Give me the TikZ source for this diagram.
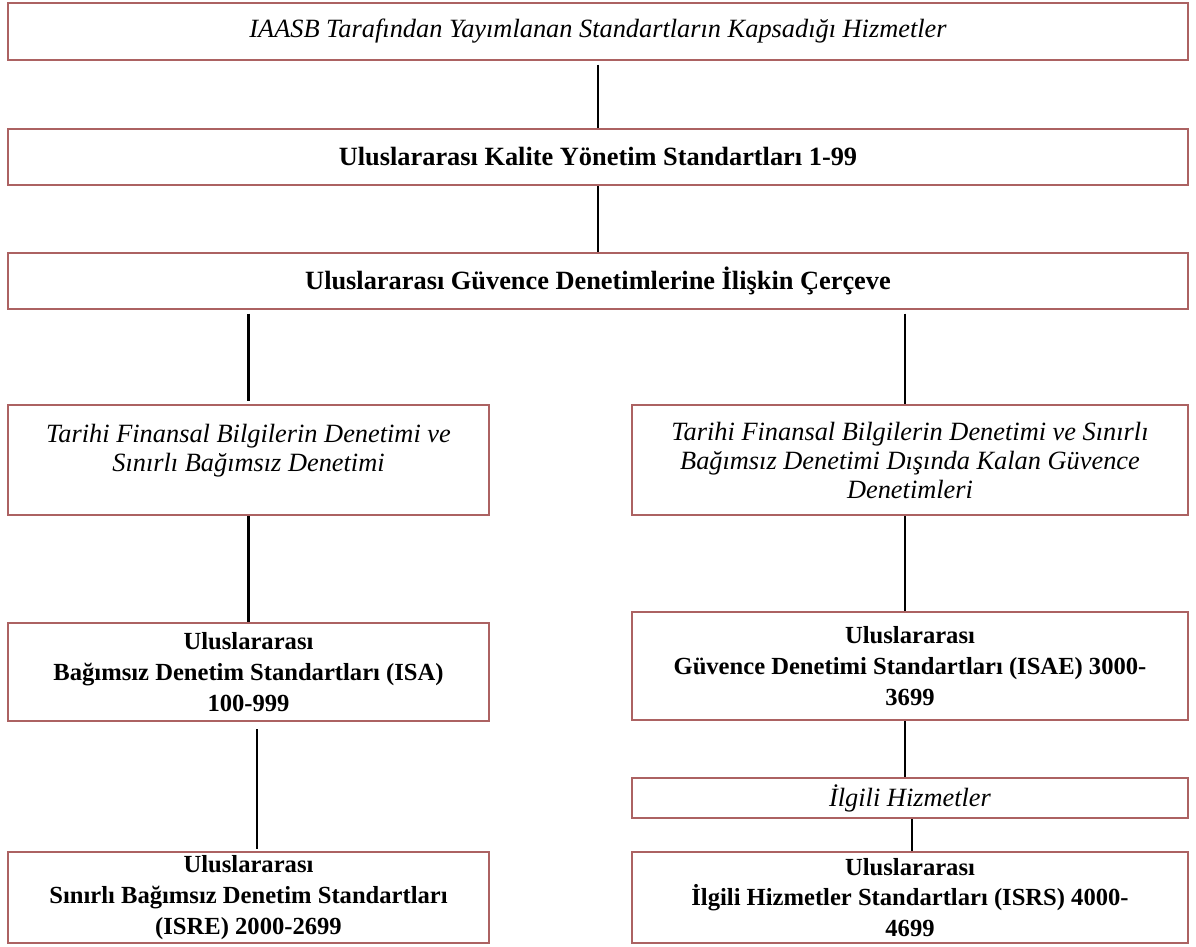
\documentclass[tikz,border=0pt]{standalone}
\usepackage{fontspec}
\setmainfont{Liberation Serif}
\usepackage{tikz}
\usetikzlibrary{calc}

\definecolor{boxred}{RGB}{172,98,98}

\begin{document}
\begin{tikzpicture}[x=0.02cm,y=-0.02cm,
    box/.style={draw=boxred, line width=1.3pt, inner sep=0pt, align=center,
                font=\fontsize{14}{17.5}\selectfont},
    wide/.style={box, minimum width=23.6cm, font=\fontsize{15}{18}\selectfont},
    half/.style={box, minimum width=9.62cm},
    rhalf/.style={box, minimum width=11.12cm},
    it/.style={font=\fontsize{15}{16.5}\selectfont\itshape},
    txt/.style={align=center, it},
    link/.style={black, line width=1.6pt}]
       \useasboundingbox (0,0) rectangle (1196,946);

       \node[wide, minimum height=1.14cm, it] (top) at (598, 31.5) {IAASB Tarafından Yayımlanan Standartların Kapsadığı Hizmetler};
       \node[wide, minimum height=1.12cm] (kalite) at (598, 157) {\bfseries Uluslararası Kalite Yönetim Standartları 1-99};
       \node[wide, minimum height=1.12cm] (cerceve) at (598, 281) {\bfseries Uluslararası Güvence Denetimlerine İlişkin Çerçeve};

       \node[half, minimum height=2.2cm] (tarL) at (248.5, 460) {};
       \node[txt] (tarLtxt) at (248.5, 451) {Tarihi Finansal Bilgilerin Denetimi ve\\ Sınırlı Bağımsız Denetimi};
       \node[rhalf, minimum height=2.2cm, it] (tarR) at (910, 460) {Tarihi Finansal Bilgilerin Denetimi ve Sınırlı\\ Bağımsız Denetimi Dışında Kalan Güvence\\ Denetimleri};

       \node[half, minimum height=1.96cm] (isa) at (248.5, 672) {\bfseries Uluslararası\\ \bfseries Bağımsız Denetim Standartları (ISA)\\ \bfseries 100-999};
       \node[rhalf, minimum height=2.16cm] (isae) at (910, 666) {\bfseries Uluslararası\\ \bfseries Güvence Denetimi Standartları (ISAE) 3000-\\ \bfseries 3699};

       \node[rhalf, minimum height=0.8cm, it] (ilgili) at (910, 798) {İlgili Hizmetler};

       \node[half, minimum height=1.82cm] (isre) at (248.5, 897.5) {\bfseries Uluslararası\\ \bfseries Sınırlı Bağımsız Denetim Standartları\\ \bfseries (ISRE) 2000-2699};
       \node[rhalf, minimum height=1.82cm] (isrs) at (910, 897.5) {\bfseries Uluslararası\\ \bfseries İlgili Hizmetler Standartları (ISRS) 4000-\\ \bfseries 4699};

       \draw[link, shorten <=2pt] (top.south) -- (kalite.north);
       \draw[link] (kalite.south) -- (cerceve.north);
       \draw[link, shorten <=2pt, shorten >=1.5pt] (cerceve.south -| tarL.north) -- (tarL.north);
       \draw[link, shorten <=2pt] ([xshift=-0.1cm]cerceve.south -| tarR.north) -- ([xshift=-0.1cm]tarR.north);
       \draw[link] (tarL.south) -- (isa.north);
       \draw[link] ([xshift=-0.1cm]tarR.south) -- ([xshift=-0.1cm]isae.north);
       \draw[link, shorten <=4pt, shorten >=1pt] ([xshift=0.17cm]isa.south) -- ([xshift=0.17cm]isa.south |- isre.north);
       \draw[link] ([xshift=-0.1cm]isae.south) -- ([xshift=-0.1cm]ilgili.north);
       \draw[link] ([xshift=0.04cm]ilgili.south) -- ([xshift=0.04cm]isrs.north);
\end{tikzpicture}
\end{document}
